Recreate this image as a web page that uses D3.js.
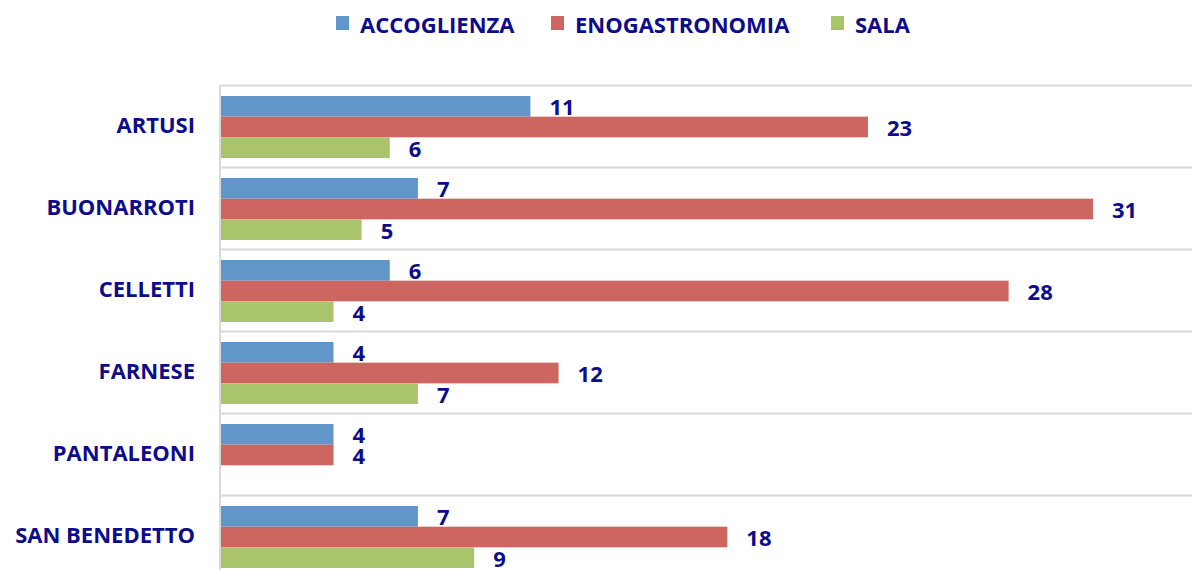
<!DOCTYPE html>
<html>
<head>
<meta charset="utf-8">
<script src="https://cdn.jsdelivr.net/npm/d3@7"></script>
<style>
  body { margin: 0; background: #fff; overflow: hidden; }
  svg text { font-family: "Open Sans", "Liberation Sans", sans-serif; font-weight: 700; fill: #0c0c8c; }
</style>
</head>
<body>
<svg id="chart" width="1192" height="570"></svg>
<script>
var categories = ["ARTUSI", "BUONARROTI", "CELLETTI", "FARNESE", "PANTALEONI", "SAN BENEDETTO"];
var seriesNames = ["ACCOGLIENZA", "ENOGASTRONOMIA", "SALA"];
var accoglienza = [11, 7, 6, 4, 4, 7];
var enogastronomia = [23, 31, 28, 12, 4, 18];
var sala = [6, 5, 4, 7, null, 9];
var colors = ["#6196c8", "#cd6660", "#a9c46b"];

var seriesValues = [accoglienza, enogastronomia, sala];

var svg = d3.select("#chart");
var plotLeft = 221, plotTop = 85, band = 82;

var y = d3.scaleBand().domain(categories)
	.range([plotTop, plotTop + band * categories.length])
	.paddingInner(0).paddingOuter(0);
var yInner = d3.scaleBand().domain(seriesNames)
	.range([11, 11 + 62]);
var x = d3.scaleLinear().domain([0, 31]).range([plotLeft, 1093]);

// gridlines at category boundaries
var bounds = categories.map(c => y(c)).concat([y(categories[categories.length-1]) + band]);
svg.append("g").selectAll("line").data(bounds).join("line")
	.attr("x1", plotLeft - 1).attr("x2", 1192)
	.attr("y1", d => d + 0.5).attr("y2", d => d + 0.5)
	.attr("stroke", "#d9d9d9").attr("stroke-width", 2);

// bars
var rows = [];
categories.forEach((c, i) => {
	seriesNames.forEach((s, j) => {
		if (seriesValues[j][i] != null)
			rows.push({cat: c, series: s, idx: j, value: seriesValues[j][i]});
	});
});

svg.append("g").selectAll("rect").data(rows).join("rect")
	.attr("x", x(0))
	.attr("y", d => y(d.cat) + yInner(d.series))
	.attr("width", d => x(d.value) - x(0))
	.attr("height", yInner.bandwidth())
	.attr("fill", d => colors[d.idx]);

svg.append("g").selectAll("text").data(rows).join("text")
	.attr("x", d => x(d.value) + 19)
	.attr("y", d => y(d.cat) + yInner(d.series) + yInner.bandwidth() / 2 + 1)
	.attr("dy", "0.36em")
	.attr("font-size", 22)
	.text(d => d.value);

// vertical axis line
svg.append("line")
	.attr("x1", plotLeft - 1).attr("x2", plotLeft - 1)
	.attr("y1", plotTop).attr("y2", 570)
	.attr("stroke", "#d9d9d9").attr("stroke-width", 2);

// category labels
svg.append("g").selectAll("text").data(categories).join("text")
	.attr("x", 195)
	.attr("y", d => y(d) + band / 2 - 1)
	.attr("dy", "0.36em")
	.attr("text-anchor", "end")
	.attr("font-size", 22)
	.text(d => d);

// legend
var legendX = [336, 551, 831];
var lg = svg.append("g").selectAll("g").data(seriesNames).join("g")
	.attr("transform", (d, i) => `translate(${legendX[i]},0)`);
lg.append("rect").attr("x", 0).attr("y", 16).attr("width", 13).attr("height", 14)
	.attr("fill", (d, i) => colors[i]);
lg.append("text").attr("x", 24).attr("y", 25).attr("dy", "0.36em")
	.attr("font-size", 22).text(d => d);
</script>
</body>
</html>
